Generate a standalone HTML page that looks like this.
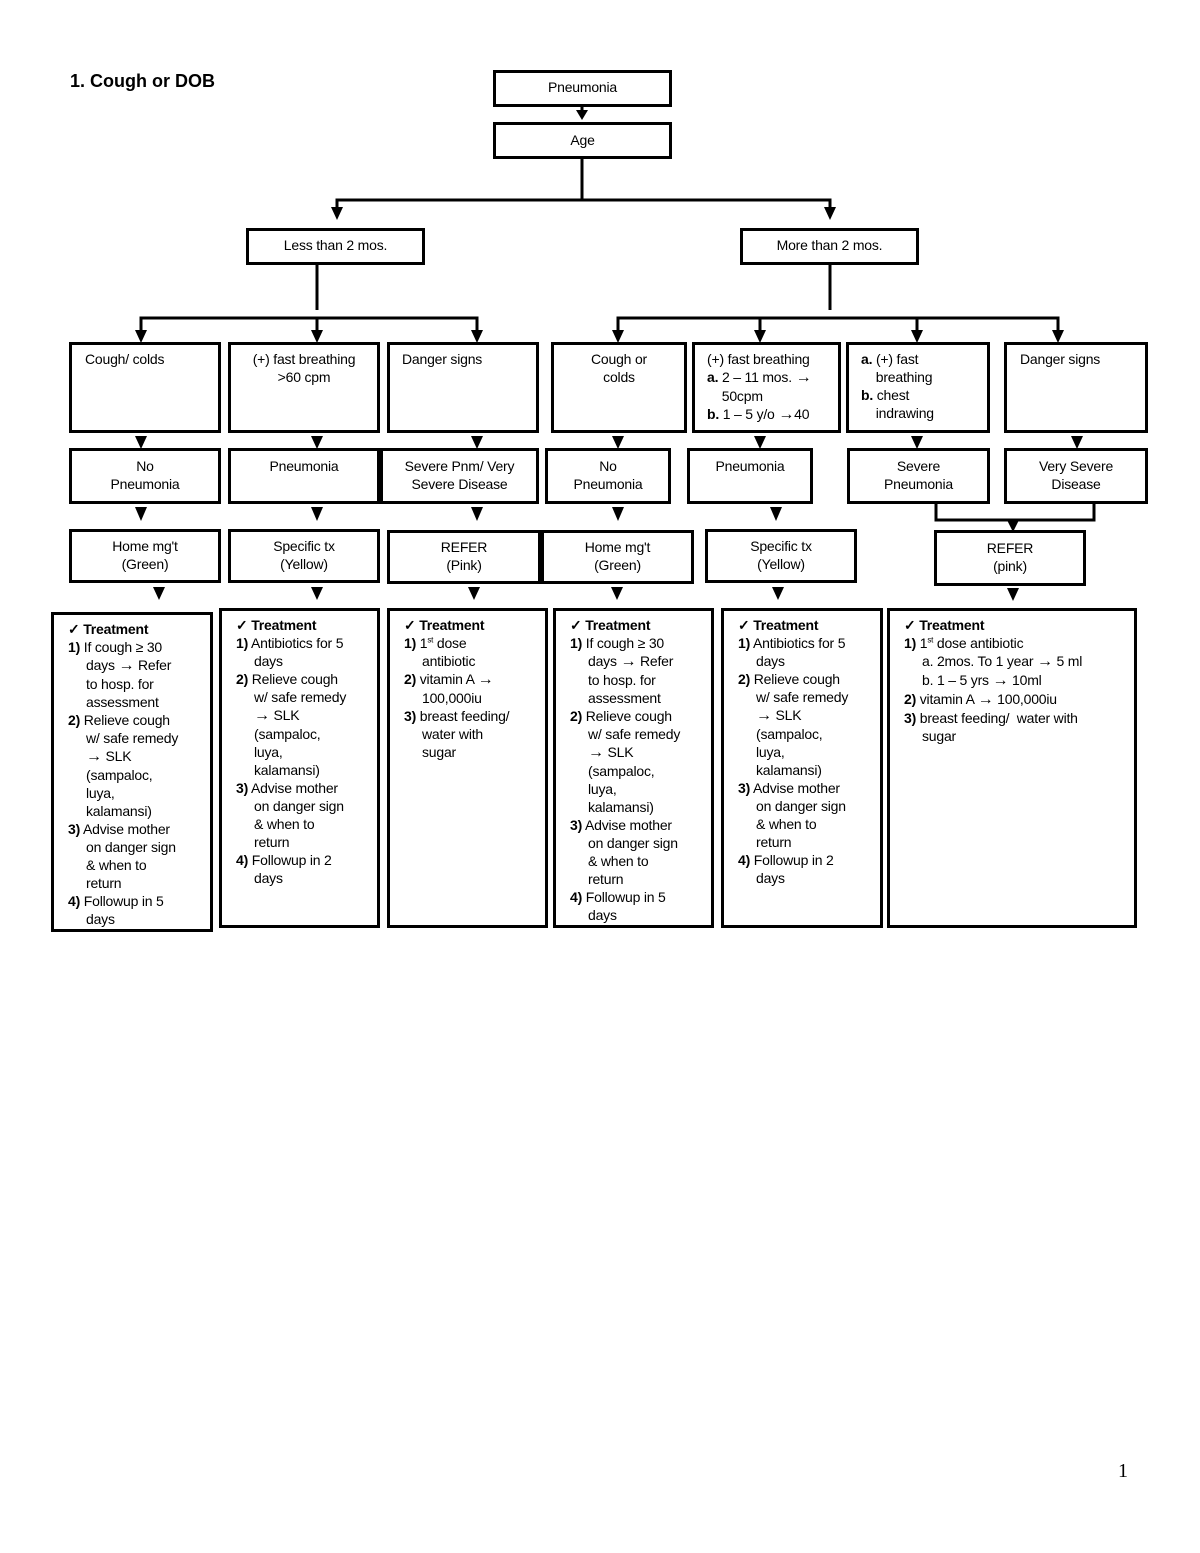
<!DOCTYPE html>
<html><head><meta charset="utf-8"><style>
body{margin:0;background:#fff;width:1200px;height:1553px;position:relative;font-family:"Liberation Sans",Arial,sans-serif;color:#000;overflow:hidden}
.b{position:absolute;border:3px solid #000;box-sizing:border-box;font-size:14px;line-height:18px;white-space:nowrap;letter-spacing:-0.2px}
.c{text-align:center}
.t{padding:5px 0 0 14px}
.t p{margin:0;padding-left:18px;text-indent:-18px}
.t .h{padding-left:0;text-indent:0;font-weight:bold}
.ar{font-size:16px;font-weight:bold}
svg{position:absolute;left:0;top:0}
</style></head><body>
<div style="position:absolute;left:70px;top:71px;font-weight:bold;font-size:18px">1. Cough or DOB</div>
<div style="position:absolute;left:1118px;top:1460px;font-family:'Liberation Serif',serif;font-size:20px">1</div>

<svg width="1200" height="1553">
<g stroke="#000" stroke-width="3" fill="none">
<line x1="582" y1="107" x2="582" y2="114"/>
<polyline points="582,159 582,200"/>
<polyline points="337,210 337,200 830,200 830,210"/>
<line x1="317" y1="265" x2="317" y2="310"/>
<polyline points="141,334 141,318 477,318 477,334"/>
<line x1="317" y1="318" x2="317" y2="334"/>
<line x1="830" y1="265" x2="830" y2="310"/>
<polyline points="618,334 618,318 1058,318 1058,334"/>
<line x1="760" y1="318" x2="760" y2="334"/>
<line x1="917" y1="318" x2="917" y2="334"/>
<polyline points="936,504 936,520 1094,520 1094,504"/>
<line x1="1013" y1="520" x2="1013" y2="524"/>
</g>
<g fill="#000">
<polygon points="576,110 588,110 582,120"/>
<polygon points="331,207 343,207 337,220"/>
<polygon points="824,207 836,207 830,220"/>
<polygon points="135,330 147,330 141,343"/>
<polygon points="311,330 323,330 317,343"/>
<polygon points="471,330 483,330 477,343"/>
<polygon points="612,330 624,330 618,343"/>
<polygon points="754,330 766,330 760,343"/>
<polygon points="911,330 923,330 917,343"/>
<polygon points="1052,330 1064,330 1058,343"/>
<polygon points="135,436 147,436 141,449"/>
<polygon points="311,436 323,436 317,449"/>
<polygon points="471,436 483,436 477,449"/>
<polygon points="612,436 624,436 618,449"/>
<polygon points="754,436 766,436 760,449"/>
<polygon points="911,436 923,436 917,449"/>
<polygon points="1071,436 1083,436 1077,449"/>
<polygon points="135,507 147,507 141,521"/>
<polygon points="311,507 323,507 317,521"/>
<polygon points="471,507 483,507 477,521"/>
<polygon points="612,507 624,507 618,521"/>
<polygon points="770,507 782,507 776,521"/>
<polygon points="1007,520 1019,520 1013,532"/>
<polygon points="153,587 165,587 159,600"/>
<polygon points="311,587 323,587 317,600"/>
<polygon points="468,587 480,587 474,600"/>
<polygon points="611,587 623,587 617,600"/>
<polygon points="772,587 784,587 778,600"/>
<polygon points="1007,588 1019,588 1013,601"/>
</g>
</svg>

<div class="b c" style="left:493px;top:70px;width:179px;height:37px;padding-top:5px">Pneumonia</div>
<div class="b c" style="left:493px;top:122px;width:179px;height:37px;padding-top:6px">Age</div>
<div class="b c" style="left:246px;top:228px;width:179px;height:37px;padding-top:5px">Less than 2 mos.</div>
<div class="b c" style="left:740px;top:228px;width:179px;height:37px;padding-top:5px">More than 2 mos.</div>

<div class="b" style="left:69px;top:342px;width:152px;height:91px;padding:5px 0 0 13px">Cough/ colds</div>
<div class="b c" style="left:228px;top:342px;width:152px;height:91px;padding-top:5px">(+) fast breathing<br>&gt;60 cpm</div>
<div class="b" style="left:387px;top:342px;width:152px;height:91px;padding:5px 0 0 12px">Danger signs</div>
<div class="b c" style="left:551px;top:342px;width:136px;height:91px;padding-top:5px">Cough or<br>colds</div>
<div class="b" style="left:692px;top:342px;width:149px;height:91px;padding:5px 0 0 12px">(+) fast breathing<br><b>a.</b> 2 – 11 mos. <span class="ar">→</span><br>&nbsp;&nbsp;&nbsp; 50cpm<br><b>b.</b> 1 – 5 y/o <span class="ar">→</span>40</div>
<div class="b" style="left:846px;top:342px;width:144px;height:91px;padding:5px 0 0 12px"><b>a.</b> (+) fast<br>&nbsp;&nbsp;&nbsp; breathing<br><b>b.</b> chest<br>&nbsp;&nbsp;&nbsp; indrawing</div>
<div class="b" style="left:1004px;top:342px;width:144px;height:91px;padding:5px 0 0 13px">Danger signs</div>

<div class="b c" style="left:69px;top:448px;width:152px;height:56px;padding-top:6px">No<br>Pneumonia</div>
<div class="b c" style="left:228px;top:448px;width:152px;height:56px;padding-top:6px">Pneumonia</div>
<div class="b c" style="left:380px;top:448px;width:159px;height:56px;padding-top:6px">Severe Pnm/ Very<br>Severe Disease</div>
<div class="b c" style="left:545px;top:448px;width:126px;height:56px;padding-top:6px">No<br>Pneumonia</div>
<div class="b c" style="left:687px;top:448px;width:126px;height:56px;padding-top:6px">Pneumonia</div>
<div class="b c" style="left:847px;top:448px;width:143px;height:56px;padding-top:6px">Severe<br>Pneumonia</div>
<div class="b c" style="left:1004px;top:448px;width:144px;height:56px;padding-top:6px">Very Severe<br>Disease</div>

<div class="b c" style="left:69px;top:529px;width:152px;height:54px;padding-top:5px">Home mg't<br>(Green)</div>
<div class="b c" style="left:228px;top:529px;width:152px;height:54px;padding-top:5px">Specific tx<br>(Yellow)</div>
<div class="b c" style="left:387px;top:530px;width:154px;height:54px;padding-top:5px">REFER<br>(Pink)</div>
<div class="b c" style="left:541px;top:530px;width:153px;height:54px;padding-top:5px">Home mg't<br>(Green)</div>
<div class="b c" style="left:705px;top:529px;width:152px;height:54px;padding-top:5px">Specific tx<br>(Yellow)</div>
<div class="b c" style="left:934px;top:530px;width:152px;height:56px;padding-top:6px">REFER<br>(pink)</div>

<div class="b t" style="left:51px;top:612px;width:162px;height:320px">
<p class="h">✓ Treatment</p>
<p><b>1)</b> If cough ≥ 30<br>days <span class="ar">→</span> Refer<br>to hosp. for<br>assessment</p>
<p><b>2)</b> Relieve cough<br>w/ safe remedy<br><span class="ar">→</span> SLK<br>(sampaloc,<br>luya,<br>kalamansi)</p>
<p><b>3)</b> Advise mother<br>on danger sign<br>&amp; when to<br>return</p>
<p><b>4)</b> Followup in 5<br>days</p>
</div>
<div class="b t" style="left:219px;top:608px;width:161px;height:320px">
<p class="h">✓ Treatment</p>
<p><b>1)</b> Antibiotics for 5<br>days</p>
<p><b>2)</b> Relieve cough<br>w/ safe remedy<br><span class="ar">→</span> SLK<br>(sampaloc,<br>luya,<br>kalamansi)</p>
<p><b>3)</b> Advise mother<br>on danger sign<br>&amp; when to<br>return</p>
<p><b>4)</b> Followup in 2<br>days</p>
</div>
<div class="b t" style="left:387px;top:608px;width:161px;height:320px">
<p class="h">✓ Treatment</p>
<p><b>1)</b> 1<sup style="font-size:8px;line-height:0">st</sup> dose<br>antibiotic</p>
<p><b>2)</b> vitamin A <span class="ar">→</span><br>100,000iu</p>
<p><b>3)</b> breast feeding/<br>water with<br>sugar</p>
</div>
<div class="b t" style="left:553px;top:608px;width:161px;height:320px">
<p class="h">✓ Treatment</p>
<p><b>1)</b> If cough ≥ 30<br>days <span class="ar">→</span> Refer<br>to hosp. for<br>assessment</p>
<p><b>2)</b> Relieve cough<br>w/ safe remedy<br><span class="ar">→</span> SLK<br>(sampaloc,<br>luya,<br>kalamansi)</p>
<p><b>3)</b> Advise mother<br>on danger sign<br>&amp; when to<br>return</p>
<p><b>4)</b> Followup in 5<br>days</p>
</div>
<div class="b t" style="left:721px;top:608px;width:162px;height:320px">
<p class="h">✓ Treatment</p>
<p><b>1)</b> Antibiotics for 5<br>days</p>
<p><b>2)</b> Relieve cough<br>w/ safe remedy<br><span class="ar">→</span> SLK<br>(sampaloc,<br>luya,<br>kalamansi)</p>
<p><b>3)</b> Advise mother<br>on danger sign<br>&amp; when to<br>return</p>
<p><b>4)</b> Followup in 2<br>days</p>
</div>
<div class="b t" style="left:887px;top:608px;width:250px;height:320px">
<p class="h">✓ Treatment</p>
<p><b>1)</b> 1<sup style="font-size:8px;line-height:0">st</sup> dose antibiotic<br>a. 2mos. To 1 year <span class="ar">→</span> 5 ml<br>b. 1 – 5 yrs <span class="ar">→</span> 10ml</p>
<p><b>2)</b> vitamin A <span class="ar">→</span> 100,000iu</p>
<p><b>3)</b> breast feeding/&nbsp; water with<br>sugar</p>
</div>
</body></html>
